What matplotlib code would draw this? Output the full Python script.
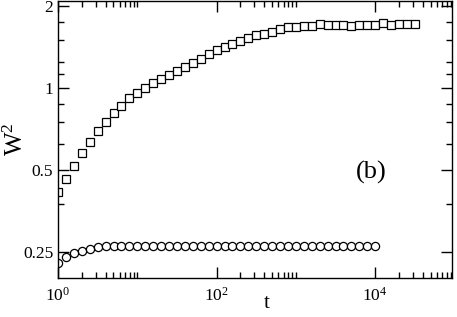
import numpy as np
import matplotlib
matplotlib.use('Agg')
import matplotlib.pyplot as plt
from matplotlib.ticker import FixedLocator, NullFormatter

plt.rcParams['font.family'] = ['Liberation Serif', 'DejaVu Serif']
plt.rcParams['mathtext.fontset'] = 'custom'
plt.rcParams['mathtext.rm'] = 'Liberation Serif'
plt.rcParams['mathtext.it'] = 'Liberation Serif:italic'

# time points, log spaced (0.1 decade)
t_squares = 10 ** (np.arange(46) / 10)
t_circles = 10 ** (np.arange(41) / 10)

w2_squares = [0.415, 0.464, 0.518, 0.576, 0.634, 0.694, 0.751, 0.808, 0.861, 0.921,
              0.961, 1.003, 1.041, 1.080, 1.121, 1.159, 1.199, 1.241, 1.283, 1.333,
              1.376, 1.418, 1.454, 1.488, 1.526, 1.563, 1.585, 1.613, 1.647, 1.672,
              1.683, 1.686, 1.696, 1.718, 1.712, 1.712, 1.700, 1.697, 1.712, 1.712,
              1.708, 1.733, 1.708, 1.722, 1.727, 1.727]

w2_circles = [0.228, 0.239, 0.247, 0.253, 0.257, 0.260] + [0.262] * 35

y_ticks = [0.25, 0.5, 1, 2]
y_ticklabels = ['0.25', '0.5', '1', '2']
y_minor = [0.375, 0.625, 0.75, 0.875, 1.125, 1.25, 1.5, 1.75]

fig = plt.figure(figsize=(4.57, 3.17), dpi=100)
ax = fig.add_axes([0.127, 0.122, 0.862, 0.875])

ax.plot(t_squares, w2_squares, linestyle='none', marker='s', markersize=5.4,
        markerfacecolor='white', markeredgecolor='black', markeredgewidth=0.9)
ax.plot(t_circles, w2_circles, linestyle='none', marker='o', markersize=5.9,
        markerfacecolor='white', markeredgecolor='black', markeredgewidth=0.9)

ax.set_xscale('log')
ax.set_yscale('log')
ax.set_xlim(1, 9.3e4)
ax.set_ylim(0.2, 2.09)

ax.set_xticks([1, 1e2, 1e4])
ax.set_xticklabels([r'$10^{0}$', r'$10^{2}$', r'$10^{4}$'])
ax.xaxis.set_minor_locator(FixedLocator([m * 10 ** e for e in (0, 2, 4) for m in range(2, 11)]))
ax.xaxis.set_minor_formatter(NullFormatter())

ax.set_yticks(y_ticks)
ax.set_yticklabels(y_ticklabels)
ax.yaxis.set_minor_locator(FixedLocator(y_minor))
ax.yaxis.set_minor_formatter(NullFormatter())

ax.tick_params(which='both', direction='in', top=True, right=True, labelsize=12.5, width=1.0)
ax.tick_params(which='major', length=8)
ax.tick_params(which='minor', length=4)
ax.tick_params(axis='y', which='major', pad=3.5)
ax.tick_params(axis='x', which='major', pad=6)
for s in ax.spines.values():
    s.set_linewidth(1.0)

ax.set_xlabel('t', fontsize=15)
ax.xaxis.set_label_coords(0.53, -0.055)
ax.set_ylabel(r'W$^2$', fontsize=18)
ax.yaxis.set_label_coords(-0.076, 0.50)

ax.text(0.796, 0.38, '(b)', transform=ax.transAxes, fontsize=19, ha='center', va='center')

fig.savefig('out.png', dpi=100)
